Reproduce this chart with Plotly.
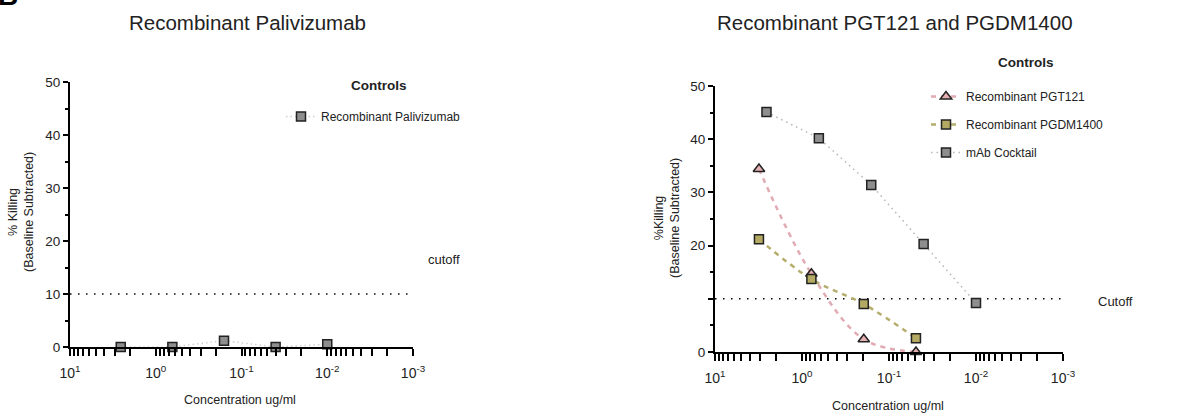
import plotly.graph_objects as go

# ---------------- data ----------------
conc_4fold = [2.56, 0.64, 0.16, 0.04, 0.01]          # ug/ml
palivizumab = [0.0, 0.0, 1.2, 0.0, 0.5]

conc_pg = [3.125, 0.78, 0.195, 0.049]                 # ug/ml
pgt121 = [34.4, 14.7, 2.4, 0.0]
pgdm1400 = [21.2, 13.7, 9.0, 2.6]

conc_cocktail = [2.56, 0.64, 0.16, 0.04, 0.01]
cocktail = [45.1, 40.2, 31.4, 20.3, 9.2]

cutoff = 10
x_limits = [10, 0.001]
x_major = [10, 1, 0.1, 0.01, 0.001]
x_major_text = ["10<sup>1</sup>", "10<sup>0</sup>", "10<sup>-1</sup>", "10<sup>-2</sup>", "10<sup>-3</sup>"]
x_minor = [k * d for d in [0.001, 0.01, 0.1, 1] for k in range(2, 10)]
y_left_ticks = [0, 10, 20, 30, 40, 50]
y_left_text = ["0", "10", "20", "30", "40", "50"]
y_right_ticks = [0, 10, 20, 30, 40, 50]
y_right_text = ["0", "", "20", "30", "40", "50"]
y_minor = [5, 15, 25, 35, 45]

FONT = "Liberation Sans, Arial, sans-serif"
W, H = 1201, 413

def px_x(p):
    return p / W

def px_y(p):
    return (H - p) / H

fig = go.Figure()

MK = 9
# ---------------- left panel ----------------
fig.add_trace(go.Scatter(
    x=x_limits, y=[cutoff, cutoff], mode="lines",
    line=dict(color="black", width=1.5, dash="1.5px,6.5px"),
    showlegend=False, hoverinfo="skip", xaxis="x", yaxis="y"))
fig.add_trace(go.Scatter(
    x=conc_4fold, y=palivizumab, mode="lines+markers", name="Recombinant Palivizumab",
    line=dict(color="#cfcfcf", width=1.5, dash="1.5px,3px"),
    marker=dict(symbol="square", size=MK, color="#8e8e8e", line=dict(color="#222222", width=1.5)),
    cliponaxis=False, xaxis="x", yaxis="y", legend="legend", legendgroup="a"))

# ---------------- right panel ----------------
fig.add_trace(go.Scatter(
    x=x_limits, y=[cutoff, cutoff], mode="lines",
    line=dict(color="black", width=1.5, dash="1.5px,6.5px"),
    showlegend=False, hoverinfo="skip", xaxis="x2", yaxis="y2"))
fig.add_trace(go.Scatter(
    x=conc_pg, y=pgt121, mode="lines+markers", name="Recombinant PGT121",
    line=dict(color="#e2aab3", width=2.5, dash="5px,5px", shape="spline"),
    marker=dict(symbol="triangle-up", size=MK + 1, color="#e6b0b2", line=dict(color="#222222", width=1.5)),
    cliponaxis=False, xaxis="x2", yaxis="y2", legend="legend2", legendgroup="b1"))
fig.add_trace(go.Scatter(
    x=conc_pg, y=pgdm1400, mode="lines+markers", name="Recombinant PGDM1400",
    line=dict(color="#b5ad6c", width=2.5, dash="5px,5px", shape="spline"),
    marker=dict(symbol="square", size=MK, color="#b3a962", line=dict(color="#222222", width=1.5)),
    cliponaxis=False, xaxis="x2", yaxis="y2", legend="legend2", legendgroup="b2"))
fig.add_trace(go.Scatter(
    x=conc_cocktail, y=cocktail, mode="lines+markers", name="mAb Cocktail",
    line=dict(color="#b5b5b5", width=1.5, dash="1.5px,4px"),
    marker=dict(symbol="square", size=MK, color="#8e8e8e", line=dict(color="#222222", width=1.5)),
    cliponaxis=False, xaxis="x2", yaxis="y2", legend="legend2", legendgroup="b3"))

xcommon = dict(
    type="log", range=[1, -3], showline=True, linecolor="black", linewidth=2,
    ticks="outside", ticklen=7, tickwidth=2, tickcolor="black",
    tickmode="array", tickvals=x_major, ticktext=x_major_text,
    minor=dict(tickmode="array", tickvals=x_minor, ticks="outside", ticklen=7, tickwidth=2, tickcolor="black"),
    showgrid=False, zeroline=False, tickfont=dict(family=FONT, size=14, color="#222222"),
    ticklabelstandoff=5, fixedrange=True, automargin=False,
)
ycommon = dict(
    range=[0, 50], showline=True, linecolor="black", linewidth=2,
    ticks="outside", ticklen=5, tickwidth=2, tickcolor="black", tickmode="array",
    minor=dict(tickmode="array", tickvals=y_minor, ticks="outside", ticklen=3, tickwidth=2, tickcolor="black"),
    showgrid=False, zeroline=False, tickfont=dict(family=FONT, size=13.5, color="#222222"),
    ticklabelstandoff=0, fixedrange=True, automargin=False,
)

fig.update_layout(
    width=W, height=H, margin=dict(l=0, r=0, t=0, b=0, autoexpand=False),
    paper_bgcolor="white", plot_bgcolor="white",
    font=dict(family=FONT, color="#222222"),
    xaxis=dict(xcommon, domain=[px_x(70), px_x(413)], anchor="y"),
    yaxis=dict(ycommon, domain=[px_y(347), px_y(82)], anchor="x",
               tickvals=y_left_ticks, ticktext=y_left_text),
    xaxis2=dict(xcommon, domain=[px_x(715), px_x(1063)], anchor="y2"),
    yaxis2=dict(ycommon, domain=[px_y(352), px_y(86)], anchor="x2",
                tickvals=y_right_ticks, ticktext=y_right_text),
    legend=dict(x=px_x(281), y=px_y(102), xanchor="left", yanchor="top",
                font=dict(family=FONT, size=12, color="#222222"), bgcolor="rgba(0,0,0,0)",
                traceorder="grouped", tracegroupgap=9),
    legend2=dict(x=px_x(926), y=px_y(82), xanchor="left", yanchor="top",
                 font=dict(family=FONT, size=12, color="#222222"), bgcolor="rgba(0,0,0,0)",
                 traceorder="grouped", tracegroupgap=9),
    showlegend=True,
)

ann = []
ann.append(dict(text="<b>B</b>", x=px_x(-4), y=px_y(-5), xref="paper", yref="paper",
                xanchor="left", yanchor="middle", showarrow=False,
                font=dict(family=FONT, size=28, color="black")))
ann.append(dict(text="Recombinant Palivizumab", x=px_x(247), y=px_y(22), xref="paper", yref="paper",
                xanchor="center", yanchor="middle", showarrow=False, font=dict(family=FONT, size=20.5, color="#222222")))
ann.append(dict(text="Recombinant PGT121 and PGDM1400", x=px_x(895), y=px_y(22), xref="paper", yref="paper",
                xanchor="center", yanchor="middle", showarrow=False, font=dict(family=FONT, size=20.5, color="#222222")))
ann.append(dict(text="<b>Controls</b>", x=px_x(379), y=px_y(85), xref="paper", yref="paper",
                xanchor="center", yanchor="middle", showarrow=False, font=dict(family=FONT, size=13.5, color="#222222")))
ann.append(dict(text="<b>Controls</b>", x=px_x(1026), y=px_y(62), xref="paper", yref="paper",
                xanchor="center", yanchor="middle", showarrow=False, font=dict(family=FONT, size=13.5, color="#222222")))
ann.append(dict(text="% Killing<br>(Baseline Subtracted)", x=px_x(21), y=px_y(212), xref="paper", yref="paper",
                xanchor="center", yanchor="middle", textangle=-90, showarrow=False,
                font=dict(family=FONT, size=12.5, color="#222222")))
ann.append(dict(text="%Killing<br>(Baseline Subtracted)", x=px_x(667), y=px_y(218), xref="paper", yref="paper",
                xanchor="center", yanchor="middle", textangle=-90, showarrow=False,
                font=dict(family=FONT, size=12.5, color="#222222")))
ann.append(dict(text="Concentration ug/ml", x=px_x(240), y=px_y(400), xref="paper", yref="paper",
                xanchor="center", yanchor="middle", showarrow=False, font=dict(family=FONT, size=12.5, color="#222222")))
ann.append(dict(text="Concentration ug/ml", x=px_x(888), y=px_y(406), xref="paper", yref="paper",
                xanchor="center", yanchor="middle", showarrow=False, font=dict(family=FONT, size=12.5, color="#222222")))
ann.append(dict(text="cutoff", x=px_x(426), y=px_y(259), xref="paper", yref="paper",
                xanchor="left", yanchor="middle", showarrow=False, font=dict(family=FONT, size=13, color="#222222")))
ann.append(dict(text="Cutoff", x=px_x(1096), y=px_y(301), xref="paper", yref="paper",
                xanchor="left", yanchor="middle", showarrow=False, font=dict(family=FONT, size=13, color="#222222")))
fig.update_layout(annotations=ann)

fig.write_html("out.html")
